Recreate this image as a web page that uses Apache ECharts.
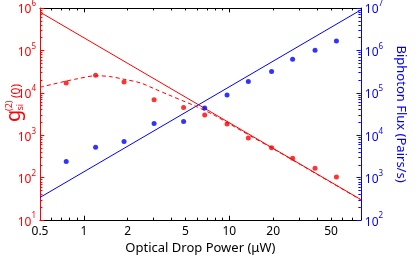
<!DOCTYPE html>
<html>
<head>
<meta charset="utf-8">
<script src="https://cdn.jsdelivr.net/npm/echarts@6/dist/echarts.min.js"></script>
<style>
html,body{margin:0;padding:0;background:#fff;}
#c{width:415px;height:260px;}
</style>
</head>
<body>
<div id="c"></div>
<script>
// ---- data ----
const power = [0.757, 1.205, 1.89, 3.04, 4.85, 6.77, 9.64, 13.5, 19.5, 27.2, 38.8, 54.4];
const g2Values = [1.71e4, 2.6e4, 1.8e4, 6.9e3, 4.5e3, 3.0e3, 1.84e3, 857, 506, 289, 167, 104];
const fluxValues = [2.4e3, 5.25e3, 7.1e3, 1.9e4, 2.1e4, 4.4e4, 8.95e4, 1.84e5, 3.2e5, 6.2e5, 1.01e6, 1.66e6];

const g2FitPower = [0.5, 80];
const g2FitValues = [8.0e5, 30.5];
const fluxFitPower = [0.5, 80];
const fluxFitValues = [342, 9.0e6];

const g2ModelPower = [0.5, 0.6, 0.75, 0.9, 1.2, 1.5, 1.9, 2.46, 3, 3.83, 5, 5.74, 7.76, 10, 15, 20, 30, 50, 80];
const g2ModelValues = [1.36e4, 1.57e4, 1.88e4, 2.14e4, 2.52e4, 2.43e4, 2.08e4, 1.71e4, 1.28e4, 8.95e3, 6.1e3, 5.0e3, 3.05e3, 1.86e3, 840, 480, 214, 77, 30];

const xTickLabels = [0.5, 1, 2, 5, 10, 20, 50];
const xMajorTicks = [1, 10];
const xMinorTicks = [0.6, 0.7, 0.8, 0.9, 2, 3, 4, 5, 6, 7, 8, 9, 20, 30, 40, 50, 60, 70, 80];
const xRange = [0.5, 80];
const leftExponents = [1, 2, 3, 4, 5, 6];
const rightExponents = [2, 3, 4, 5, 6, 7];

// ---- helpers ----
const L = Math.log10;
function minorDecades(exps) {
  const out = [];
  for (let i = 0; i < exps.length - 1; i++) {
    for (let m = 2; m <= 9; m++) out.push(exps[i] + L(m));
  }
  return out;
}
function pairs(xs, ys) { return xs.map((x, i) => [L(x), L(ys[i])]); }

const RED = '#ff0000';
const BLUE = '#0000ff';
const FONT = 'Noto Sans';
const MAJOR_LEN = 4.5, MINOR_LEN = 2.5;   // tick lengths in px

const GRID = { left: 40, right: 40, top: 8, bottom: 34 };
const W = 415, H = 260;

const xmin = L(xRange[0]), xmax = L(xRange[1]);
const lmin = leftExponents[0], lmax = leftExponents[leftExponents.length - 1];
const rmin = rightExponents[0], rmax = rightExponents[rightExponents.length - 1];

const pxX = (W - GRID.left - GRID.right) / (xmax - xmin);
const pxYL = (H - GRID.top - GRID.bottom) / (lmax - lmin);

const supRich = (color) => ({
  b: { fontSize: 12, color: color, fontFamily: FONT, lineHeight: 16, verticalAlign: 'bottom' },
  s: { fontSize: 8, color: color, fontFamily: FONT, lineHeight: 16, verticalAlign: 'top' }
});
const expFormatter = v => '{b|10}{s|' + Math.round(v) + '}';

function xTickSegs(vals, len) {
  const d = len / pxYL;
  const out = [];
  vals.forEach(v => {
    const x = L(v);
    out.push({ coords: [[x, lmin], [x, lmin + d]] });
    out.push({ coords: [[x, lmax], [x, lmax - d]] });
  });
  return out;
}
function yTickSegs(vals, len, atMin) {
  const d = len / pxX;
  return vals.map(v => atMin ? { coords: [[xmin, v], [xmin + d, v]] } : { coords: [[xmax, v], [xmax - d, v]] });
}
function tickSeries(yIdx, data, color) {
  return {
    type: 'lines', coordinateSystem: 'cartesian2d', xAxisIndex: 0, yAxisIndex: yIdx,
    polyline: false, silent: true, z: 5, clip: false,
    lineStyle: { color: color, width: 1, opacity: 1 },
    data: data
  };
}

const chart = echarts.init(document.getElementById('c'), null, { renderer: 'canvas' });

chart.setOption({
  animation: false,
  backgroundColor: '#fff',
  grid: Object.assign({ containLabel: false }, GRID),
  xAxis: [
    {
      type: 'value', position: 'bottom', min: xmin, max: xmax,
      axisLine: { show: true, onZero: false, lineStyle: { color: '#000', width: 1 } },
      axisTick: { show: false },
      axisLabel: {
        show: true, customValues: xTickLabels.map(L), margin: 5,
        color: '#000', fontSize: 12, fontFamily: FONT,
        formatter: v => String(Math.round(Math.pow(10, v) * 10) / 10)
      },
      splitLine: { show: false },
      name: 'Optical Drop Power (\u03bcW)', nameLocation: 'middle', nameGap: 17,
      nameTextStyle: { color: '#000', fontSize: 13, fontFamily: FONT }
    },
    {
      type: 'value', position: 'top', min: xmin, max: xmax,
      axisLine: { show: true, onZero: false, lineStyle: { color: '#000', width: 1 } },
      axisTick: { show: false }, axisLabel: { show: false }, splitLine: { show: false }
    }
  ],
  yAxis: [
    {
      type: 'value', position: 'left', min: lmin, max: lmax,
      axisLine: { show: true, onZero: false, lineStyle: { color: RED, width: 1 } },
      axisTick: { show: false },
      axisLabel: { show: true, customValues: leftExponents, margin: 4, formatter: expFormatter, rich: supRich(RED) },
      splitLine: { show: false }
    },
    {
      type: 'value', position: 'right', min: rmin, max: rmax,
      axisLine: { show: true, onZero: false, lineStyle: { color: BLUE, width: 1 } },
      axisTick: { show: false },
      axisLabel: { show: true, customValues: rightExponents, margin: 4, formatter: expFormatter, rich: supRich(BLUE) },
      splitLine: { show: false },
      name: 'Biphoton Flux (Pairs/s)', nameLocation: 'middle', nameRotate: -90, nameGap: 23,
      nameTextStyle: { color: BLUE, fontSize: 13, fontFamily: FONT }
    }
  ],
  graphic: [{
    type: 'group', rotation: Math.PI / 2, x: 0, y: 122,
    children: [
      { type: 'text', x: 0, y: 24, style: { text: 'g', fontSize: 20, fontFamily: FONT, fill: RED, verticalAlign: 'bottom' } },
      { type: 'text', x: 11, y: 14, style: { text: '(2)', fontSize: 9, fontFamily: FONT, fill: RED, verticalAlign: 'bottom' } },
      { type: 'text', x: 11.5, y: 25, style: { text: 'si', fontSize: 9, fontFamily: FONT, fill: RED, verticalAlign: 'bottom' } },
      { type: 'text', x: 24, y: 23, style: { text: '(0)', fontSize: 12, fontFamily: FONT, fill: RED, verticalAlign: 'bottom' } }
    ]
  }],
  series: [
    { type: 'line', name: 'g2 fit', xAxisIndex: 0, yAxisIndex: 0, data: pairs(g2FitPower, g2FitValues),
      symbol: 'none', lineStyle: { color: RED, width: 1 }, z: 2 },
    { type: 'line', name: 'flux fit', xAxisIndex: 0, yAxisIndex: 1, data: pairs(fluxFitPower, fluxFitValues),
      symbol: 'none', lineStyle: { color: BLUE, width: 1 }, z: 2 },
    { type: 'line', name: 'g2 model', xAxisIndex: 0, yAxisIndex: 0, data: pairs(g2ModelPower, g2ModelValues),
      symbol: 'none', smooth: 0.3, lineStyle: { color: RED, width: 1, type: [4, 3] }, z: 2 },
    { type: 'scatter', name: 'g2', xAxisIndex: 0, yAxisIndex: 0, data: pairs(power, g2Values),
      symbol: 'circle', symbolSize: 5, itemStyle: { color: RED }, z: 3 },
    { type: 'scatter', name: 'flux', xAxisIndex: 0, yAxisIndex: 1, data: pairs(power, fluxValues),
      symbol: 'circle', symbolSize: 5, itemStyle: { color: BLUE }, z: 3 },
    tickSeries(0, xTickSegs(xMajorTicks, MAJOR_LEN).concat(xTickSegs(xMinorTicks, MINOR_LEN)), '#000'),
    tickSeries(0, yTickSegs(leftExponents, MAJOR_LEN, true).concat(yTickSegs(minorDecades(leftExponents), MINOR_LEN, true)), RED),
    tickSeries(1, yTickSegs(rightExponents, MAJOR_LEN, false).concat(yTickSegs(minorDecades(rightExponents), MINOR_LEN, false)), BLUE)
  ]
});
</script>
</body>
</html>
